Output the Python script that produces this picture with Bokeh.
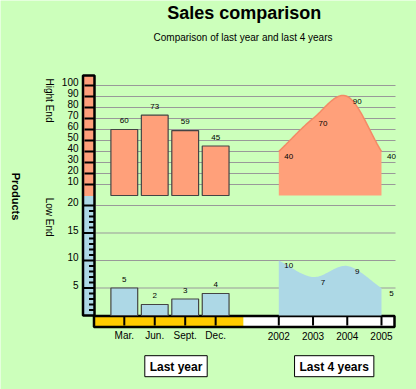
import math
from bokeh.plotting import figure
from bokeh.models import Range1d
from bokeh.core.properties import value
from bokeh.embed import file_html
from bokeh.resources import INLINE

# ---------------- data ----------------
months = ["Mar.", "Jun.", "Sept.", "Dec."]
years = [2002, 2003, 2004, 2005]
high_last_year = [60, 73, 59, 45]
low_last_year = [5, 2, 3, 4]
high_last_4_years = [40, 70, 90, 40]
low_last_4_years = [10, 7, 9, 5]
high_ticks = [10, 20, 30, 40, 50, 60, 70, 80, 90, 100]
low_ticks = [5, 10, 15, 20]
low_minor_ticks = [1, 2, 3, 4, 6, 7, 8, 9, 11, 12, 13, 14, 16, 17, 18, 19]
title_text = "Sales comparison"
subtitle_text = "Comparison of last year and last 4 years"
y_title = "Products"
high_name = "Hight End"
low_name = "Low End"
group_names = ["Last year", "Last 4 years"]

# ---------------- layout (window pixels) ----------------
W, H = 416, 389
M = 0
HI_ZERO, HI_PX = 195.0, 1.1      # high-end scale: 0 at y=195, 1.1 px per unit
LO_ZERO, LO_PX = 315.0, 5.5      # low-end scale: 0 at y=315, 5.5 px per unit
MON_X0, MON_STEP = 123.8, 30.45  # month slots
YR_X0, YR_STEP = 278.3, 34.23    # year slots

L, R, T, B = M, M + W, M, M + H
x_months = Range1d((L - MON_X0) / MON_STEP, (R - MON_X0) / MON_STEP)
x_years = Range1d(years[0] + (L - YR_X0) / YR_STEP, years[0] + (R - YR_X0) / YR_STEP)
y_high = Range1d((HI_ZERO - B) / HI_PX, (HI_ZERO - T) / HI_PX)
y_low = Range1d((LO_ZERO - B) / LO_PX, (LO_ZERO - T) / LO_PX)

BG = "#ccffbb"
SALMON = "#ffa07a"
BLUE = "#add8e6"
GOLD = "#ffcc00"
FONT = value("Liberation Sans")

p = figure(width=W, height=H, x_range=x_months, y_range=y_high,
           output_backend="svg", toolbar_location=None, title=None,
           x_axis_location=None, y_axis_location=None, min_border=0,
           background_fill_color=BG, border_fill_color=BG, outline_line_color=None)
p.extra_x_ranges = {"years": x_years, "px": Range1d(L, R)}
p.extra_y_ranges = {"low": y_low, "px": Range1d(B, T)}
p.grid.visible = False


def smooth(xs, ys, steps=30):
    """Catmull-Rom rendering of a spline line through the given points."""
    n = len(xs)
    m = []
    for i in range(n):
        if i == 0:
            m.append(ys[1] - ys[0])
        elif i == n - 1:
            m.append(ys[-1] - ys[-2])
        else:
            m.append((ys[i + 1] - ys[i - 1]) / 2.0)
    ox, oy = [], []
    for i in range(n - 1):
        for k in range(steps):
            t = k / steps
            h00 = 2 * t**3 - 3 * t**2 + 1
            h10 = t**3 - 2 * t**2 + t
            h01 = -2 * t**3 + 3 * t**2
            h11 = t**3 - t**2
            ox.append(xs[i] + t * (xs[i + 1] - xs[i]))
            oy.append(h00 * ys[i] + h10 * m[i] + h01 * ys[i + 1] + h11 * m[i + 1])
    ox.append(xs[-1])
    oy.append(ys[-1])
    return ox, oy


# ---------------- grid lines ----------------
GRID = "#999999"
p.segment(x0=95, x1=395, y0=high_ticks, y1=high_ticks, x_range_name="px",
          line_color=GRID, line_width=1)
p.segment(x0=95, x1=395, y0=low_ticks, y1=low_ticks, x_range_name="px",
          y_range_name="low", line_color=GRID, line_width=1)

# ---------------- axis strips ----------------
p.quad(left=82.5, right=94, top=75, bottom=195.5, x_range_name="px", y_range_name="px",
       fill_color=SALMON, line_color=None)
p.quad(left=82.5, right=94, top=195.5, bottom=315, x_range_name="px", y_range_name="px",
       fill_color=BLUE, line_color=None)
p.quad(left=82.5, right=94, top=75, bottom=315, x_range_name="px", y_range_name="px",
       fill_color=None, line_color="black", line_width=2.5)
p.quad(left=93.5, right=243, top=315.5, bottom=326.5, x_range_name="px", y_range_name="px",
       fill_color=GOLD, line_color=None)
p.quad(left=243, right=394, top=315.5, bottom=326.5, x_range_name="px", y_range_name="px",
       fill_color="white", line_color=None)
p.quad(left=93.5, right=394, top=315.5, bottom=326.5, x_range_name="px", y_range_name="px",
       fill_color=None, line_color="black", line_width=2.5)

# ticks
p.segment(x0=84, x1=94, y0=high_ticks, y1=high_ticks, x_range_name="px",
          line_color="black", line_width=2)
p.segment(x0=83, x1=94, y0=low_ticks, y1=low_ticks, x_range_name="px", y_range_name="low",
          line_color="black", line_width=2)
p.segment(x0=88.5, x1=94, y0=low_minor_ticks, y1=low_minor_ticks, x_range_name="px",
          y_range_name="low", line_color="black", line_width=2)
idx = list(range(len(months)))
p.segment(x0=idx, x1=idx, y0=315, y1=325, y_range_name="px", line_color="black", line_width=2)
p.segment(x0=years, x1=years, y0=315, y1=325, x_range_name="years", y_range_name="px",
          line_color="black", line_width=2)

# tick labels
p.text(x=78, y=high_ticks, text=[str(v) for v in high_ticks], x_range_name="px",
       text_align="right", text_baseline="middle", y_offset=-3.5,
       text_font=FONT, text_font_size="10px", text_color="black")
p.text(x=78, y=low_ticks, text=[str(v) for v in low_ticks], x_range_name="px",
       y_range_name="low", text_align="right", text_baseline="middle", y_offset=-3.5,
       text_font=FONT, text_font_size="10px", text_color="black")
p.text(x=idx, y=335, text=months, y_range_name="px", text_align="center",
       text_baseline="middle", text_font=FONT, text_font_size="10px", text_color="black")
p.text(x=years, y=335, text=[str(v) for v in years], x_range_name="years", y_range_name="px",
       text_align="center", text_baseline="middle", text_font=FONT, text_font_size="10px",
       text_color="black")

# ---------------- bars (last year) ----------------
p.vbar(x=idx, top=high_last_year, bottom=0, width=0.88, fill_color=SALMON,
       line_color="#444444", line_width=1.2)
p.vbar(x=idx, top=low_last_year, bottom=0, width=0.88, y_range_name="low",
       fill_color=BLUE, line_color="#444444", line_width=1.2)
p.text(x=idx, y=high_last_year, text=[str(v) for v in high_last_year], y_offset=-9,
       text_align="center", text_baseline="middle", text_font=FONT,
       text_font_size="8px", text_color="black")
p.text(x=idx, y=low_last_year, text=[str(v) for v in low_last_year], y_offset=-9,
       y_range_name="low", text_align="center", text_baseline="middle", text_font=FONT,
       text_font_size="8px", text_color="black")

# ---------------- spline areas (last 4 years) ----------------
hx, hy = smooth(years, high_last_4_years)
p.varea(x=hx, y1=0, y2=hy, x_range_name="years", fill_color=SALMON)
p.line(x=hx, y=hy, x_range_name="years", line_color="#f48a66", line_width=1.5)
lx, ly = smooth(years, low_last_4_years)
p.varea(x=lx, y1=0, y2=ly, x_range_name="years", y_range_name="low", fill_color=BLUE)
p.text(x=years, y=high_last_4_years, text=[str(v) for v in high_last_4_years],
       x_range_name="years", x_offset=10, y_offset=5, text_align="center",
       text_baseline="middle", text_font=FONT, text_font_size="8px", text_color="black")
p.text(x=years, y=low_last_4_years, text=[str(v) for v in low_last_4_years],
       x_range_name="years", y_range_name="low", x_offset=10, y_offset=5,
       text_align="center", text_baseline="middle", text_font=FONT,
       text_font_size="8px", text_color="black")

# ---------------- titles and side texts ----------------
p.text(x=243.8, y=12, text=[title_text], x_range_name="px", y_range_name="px",
       text_align="center", text_baseline="middle", text_font=FONT,
       text_font_size="18px", text_font_style="bold", text_color="black")
p.text(x=242.5, y=37, text=[subtitle_text], x_range_name="px", y_range_name="px",
       text_align="center", text_baseline="middle", text_font=FONT,
       text_font_size="10px", text_color="black")
p.text(x=15, y=196, text=[y_title], x_range_name="px", y_range_name="px", angle=-math.pi / 2,
       text_align="center", text_baseline="middle", text_font=FONT,
       text_font_size="11px", text_font_style="bold", text_color="black")
p.text(x=49, y=[100, 216.7], text=[high_name, low_name], x_range_name="px", y_range_name="px",
       angle=-math.pi / 2, text_align="center", text_baseline="middle", text_font=FONT,
       text_font_size="10px", text_color="black")

# group boxes
p.rect(x=[175.5, 333.7], y=365.7, width=[62.4, 79.3], height=21, x_range_name="px",
       y_range_name="px", fill_color="white", line_color="black", line_width=1)
p.text(x=[175.5, 333.7], y=366, text=group_names, x_range_name="px", y_range_name="px",
       text_align="center", text_baseline="middle", text_font=FONT,
       text_font_size="12px", text_font_style="bold", text_color="black")

open("out.html", "w").write(file_html(p, INLINE))
